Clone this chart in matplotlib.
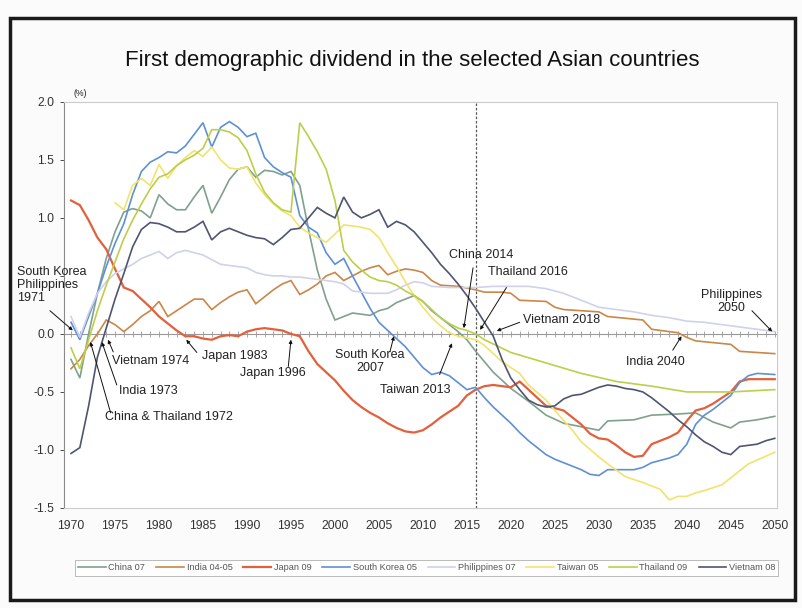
import matplotlib
matplotlib.use('Agg')
import matplotlib.pyplot as plt
from matplotlib.patches import Rectangle

plt.rcParams['font.family'] = ['Liberation Sans', 'DejaVu Sans']

# ---------------- data ----------------
series_names = ['China 07', 'India 04-05', 'Japan 09', 'South Korea 05',
                'Philippines 07', 'Taiwan 05', 'Thailand 09', 'Vietnam 08']
series_colors = ['#7fa18e', '#c98748', '#e2603c', '#5f90d4',
                 '#cfd2ea', '#f2e36c', '#bccf4a', '#4f5571']

china_years = list(range(1970, 2017)) + [2018, 2020, 2022, 2024, 2026, 2028, 2030, 2031, 2034,
                                         2036, 2039, 2041, 2043, 2045, 2046, 2048, 2050]
china_vals = [-0.22, -0.38, 0.0, 0.35, 0.65, 0.88, 1.05, 1.08, 1.06, 1.0,
              1.2, 1.12, 1.07, 1.07, 1.18, 1.28, 1.04, 1.18, 1.33, 1.42,
              1.44, 1.35, 1.41, 1.40, 1.37, 1.40, 1.28, 0.9, 0.55, 0.3,
              0.12, 0.15, 0.18, 0.17, 0.16, 0.2, 0.22, 0.27, 0.3, 0.33,
              0.28, 0.2, 0.14, 0.08, 0.02, -0.05, -0.15,
              -0.33, -0.47, -0.58, -0.70, -0.77, -0.80, -0.83, -0.75, -0.74,
              -0.70, -0.69, -0.68, -0.76, -0.81, -0.76, -0.74, -0.71]

india_years = list(range(1970, 2013)) + [2014, 2016, 2017, 2019, 2020, 2021, 2024, 2025, 2026, 2030,
                                         2031, 2035, 2036, 2039, 2040, 2041, 2045, 2046, 2050]
india_vals = [-0.3, -0.22, -0.1, 0.0, 0.12, 0.08, 0.02, 0.08, 0.15, 0.2,
              0.28, 0.15, 0.2, 0.25, 0.3, 0.3, 0.21, 0.27, 0.32, 0.36,
              0.38, 0.26, 0.32, 0.38, 0.43, 0.46, 0.34, 0.38, 0.43, 0.5,
              0.53, 0.46, 0.5, 0.54, 0.57, 0.59, 0.51, 0.54, 0.56, 0.55,
              0.53, 0.46, 0.42,
              0.41, 0.38, 0.36, 0.36, 0.35, 0.29, 0.28, 0.23, 0.21, 0.19,
              0.15, 0.12, 0.04, 0.01, -0.03, -0.06, -0.09, -0.15, -0.17]

japan_years = list(range(1970, 2048)) + [2050]
japan_vals = [1.15, 1.11, 0.98, 0.83, 0.73, 0.56, 0.40, 0.37, 0.30, 0.23,
              0.15, 0.09, 0.03, -0.02, -0.02, -0.04, -0.05, -0.02, -0.01, -0.02,
              0.02, 0.04, 0.05, 0.04, 0.03, 0.0, -0.02, -0.15, -0.26, -0.33,
              -0.40, -0.49, -0.57, -0.63, -0.68, -0.72, -0.77, -0.81, -0.84, -0.85,
              -0.83, -0.78, -0.72, -0.67, -0.62, -0.53, -0.48, -0.45, -0.44, -0.45,
              -0.46, -0.41, -0.48, -0.55, -0.62, -0.64, -0.66, -0.72, -0.78, -0.86,
              -0.90, -0.91, -0.96, -1.02, -1.06, -1.05, -0.95, -0.92, -0.89, -0.85,
              -0.75, -0.66, -0.64, -0.60, -0.55, -0.50, -0.41, -0.39,
              -0.39]

korea_years = list(range(1970, 2049)) + [2050]
korea_vals = [0.1, -0.05, 0.15, 0.35, 0.58, 0.78, 0.95, 1.2, 1.40, 1.48,
              1.52, 1.57, 1.56, 1.62, 1.72, 1.82, 1.61, 1.78, 1.83, 1.78,
              1.70, 1.73, 1.52, 1.44, 1.39, 1.35, 1.02, 0.92, 0.87, 0.70,
              0.60, 0.65, 0.50, 0.36, 0.22, 0.10, 0.03, -0.04, -0.11, -0.20,
              -0.29, -0.35, -0.33, -0.36, -0.42, -0.48, -0.46, -0.55, -0.63, -0.70,
              -0.77, -0.85, -0.92, -0.98, -1.04, -1.08, -1.11, -1.14, -1.17, -1.21,
              -1.22, -1.17, -1.17, -1.17, -1.17, -1.15, -1.11, -1.09, -1.07, -1.04,
              -0.95, -0.78, -0.70, -0.65, -0.59, -0.53, -0.42, -0.36, -0.34,
              -0.35]

phil_years = list(range(1970, 1997)) + [1998, 2000, 2001, 2002, 2004, 2006, 2007, 2008, 2009, 2010,
                                        2011, 2013, 2016, 2018, 2020, 2022, 2024, 2026, 2028, 2030,
                                        2032, 2034, 2036, 2038, 2040, 2042, 2044, 2046, 2048, 2050]
phil_vals = [0.15, -0.03, 0.18, 0.35, 0.45, 0.52, 0.56, 0.6, 0.65, 0.68,
             0.71, 0.65, 0.70, 0.72, 0.70, 0.68, 0.64, 0.60, 0.59, 0.58,
             0.57, 0.53, 0.51, 0.50, 0.50, 0.49, 0.49,
             0.47, 0.45, 0.43, 0.37, 0.35, 0.35, 0.38, 0.42, 0.45, 0.44,
             0.41, 0.40, 0.40, 0.41, 0.41, 0.41, 0.39, 0.35, 0.29, 0.23,
             0.21, 0.19, 0.16, 0.14, 0.11, 0.10, 0.08, 0.06, 0.04, 0.02]

taiwan_years = list(range(1975, 2015)) + [2016, 2017, 2019, 2021, 2022, 2024, 2025, 2027, 2028, 2030,
                                          2031, 2033, 2035, 2036, 2037, 2038, 2039, 2040, 2041, 2042,
                                          2044, 2045, 2047, 2050]
taiwan_vals = [1.13, 1.07, 1.28, 1.34, 1.28, 1.46, 1.34, 1.45, 1.52, 1.58,
               1.53, 1.61, 1.50, 1.43, 1.42, 1.44, 1.30, 1.20, 1.12, 1.06,
               1.02, 0.92, 0.87, 0.83, 0.79, 0.86, 0.94, 0.93, 0.92, 0.90,
               0.83, 0.70, 0.58, 0.45, 0.33, 0.23, 0.14, 0.07, 0.01, -0.02,
               -0.05, -0.10, -0.24, -0.34, -0.44, -0.57, -0.66, -0.83, -0.93, -1.06,
               -1.12, -1.23, -1.28, -1.31, -1.34, -1.43, -1.40, -1.40, -1.37, -1.35,
               -1.30, -1.24, -1.12, -1.02]

thai_years = list(range(1970, 2018)) + [2020, 2024, 2028, 2032, 2036, 2040, 2045, 2050]
thai_vals = [-0.12, -0.30, -0.05, 0.2, 0.42, 0.62, 0.82, 0.98, 1.12, 1.25,
             1.35, 1.38, 1.45, 1.50, 1.54, 1.60, 1.76, 1.76, 1.74, 1.69,
             1.58, 1.38, 1.22, 1.13, 1.07, 1.05, 1.82, 1.70, 1.57, 1.42,
             1.15, 0.72, 0.62, 0.55, 0.49, 0.46, 0.45, 0.42, 0.37, 0.33,
             0.28, 0.21, 0.14, 0.09, 0.05, 0.03, 0.0, -0.05,
             -0.16, -0.25, -0.34, -0.41, -0.45, -0.50, -0.50, -0.48]

vietnam_years = list(range(1970, 2051))
vietnam_vals = [-1.03, -0.98, -0.62, -0.2, 0.05, 0.30, 0.52, 0.75, 0.90, 0.96,
                0.95, 0.92, 0.88, 0.88, 0.92, 0.97, 0.81, 0.88, 0.91, 0.88,
                0.85, 0.83, 0.82, 0.77, 0.83, 0.90, 0.91, 1.0, 1.09, 1.04,
                1.0, 1.18, 1.05, 1.0, 1.03, 1.07, 0.92, 0.97, 0.94, 0.88,
                0.79, 0.70, 0.60, 0.52, 0.43, 0.33, 0.22, 0.10, -0.02, -0.22,
                -0.38, -0.48, -0.57, -0.61, -0.63, -0.62, -0.56, -0.53, -0.52, -0.49,
                -0.46, -0.44, -0.45, -0.47, -0.48, -0.50, -0.55, -0.61, -0.67, -0.74,
                -0.80, -0.87, -0.93, -0.97, -1.02, -1.04, -0.97, -0.96, -0.95, -0.92,
                -0.90]

all_years = [china_years, india_years, japan_years, korea_years,
             phil_years, taiwan_years, thai_years, vietnam_years]
all_vals = [china_vals, india_vals, japan_vals, korea_vals,
            phil_vals, taiwan_vals, thai_vals, vietnam_vals]

x_tick_years = list(range(1970, 2051, 5))
y_ticks = [-1.5, -1.0, -0.5, 0.0, 0.5, 1.0, 1.5, 2.0]
# the 0.5 label is hidden behind the annotation in the original
y_tick_labels = ['-1.5', '-1.0', '-0.5', '0.0', '', '1.0', '1.5', '2.0']
marker_year = 2016

# annotation texts: (text, text position, ha, arrow start, arrow end)
annotations = [
    ('South Korea\nPhilippines\n1971', (1963.9, 0.42), 'left', (1967.6, 0.20), (1970.2, 0.03)),
    ('Vietnam 1974', (1974.7, -0.23), 'left', (1974.8, -0.155), (1974.2, -0.05)),
    ('India 1973', (1975.4, -0.49), 'left', (1975.2, -0.44), (1973.5, -0.07)),
    ('China & Thailand 1972', (1973.9, -0.72), 'left', (1974.5, -0.68), (1972.2, -0.07)),
    ('Japan 1983', (1984.9, -0.19), 'left', (1984.3, -0.16), (1983.1, -0.05)),
    ('Japan 1996', (1989.2, -0.34), 'left', (1994.7, -0.28), (1995.0, -0.05)),
    ('South Korea\n2007', (2004.0, -0.235), 'center', (2006.25, -0.155), (2006.7, -0.02)),
    ('Taiwan 2013', (2009.1, -0.48), 'center', (2011.9, -0.35), (2013.3, -0.08)),
    ('China 2014', (2012.95, 0.68), 'left', (2015.7, 0.57), (2014.65, 0.05)),
    ('Thailand 2016', (2017.4, 0.53), 'left', (2019.5, 0.40), (2016.5, 0.035)),
    ('Vietnam 2018', (2021.4, 0.12), 'left', (2021.0, 0.10), (2018.4, 0.026)),
    ('India 2040', (2036.4, -0.24), 'center', (2038.4, -0.14), (2039.4, -0.02)),
    ('Philippines\n2050', (2045.1, 0.28), 'center', (2047.4, 0.20), (2049.7, 0.02)),
]

# ---------------- figure ----------------
fig = plt.figure(figsize=(8.02, 6.08), dpi=100, facecolor='#fbfbfb')
ax = fig.add_axes([0.0798, 0.1645, 0.889, 0.668])
ax.set_facecolor('white')

lines = []
for name, col, xs, ys in zip(series_names, series_colors, all_years, all_vals):
    lw = 1.6 if name.startswith('Japan') else 1.2
    ln, = ax.plot(xs, ys, color=col, lw=lw, label=name, solid_joinstyle='miter')
    lines.append(ln)

ax.axvline(marker_year, color='#555555', lw=0.9, ls=(0, (2, 1.5)), zorder=1)

ax.set_xlim(1969.2, 2050.25)
ax.set_ylim(-1.5, 2.0)
ax.set_yticks(y_ticks)
ax.set_yticklabels(y_tick_labels)
ax.set_xticks(x_tick_years)
ax.set_xticklabels([str(y) for y in x_tick_years])
ax.tick_params(axis='x', length=0, pad=9, labelsize=8.7, colors='#333333')
ax.tick_params(axis='y', length=3, width=0.6, pad=4, labelsize=8.7, colors='#333333',
               direction='out')
for s in ['top', 'right', 'bottom']:
    ax.spines[s].set_color('#cccccc')
    ax.spines[s].set_linewidth(0.8)
ax.spines['left'].set_color('#8a8a8a')
ax.spines['left'].set_linewidth(0.8)

# zero axis with yearly ticks
sec = ax.secondary_xaxis(1.5 / 3.5)
sec.set_xticks(list(range(1970, 2051)))
sec.tick_params(axis='x', direction='inout', length=4, width=0.6, color='#999999',
                labelbottom=False, labeltop=False)
sec.spines['bottom'].set_color('#999999')
sec.spines['bottom'].set_linewidth(0.8)
sec.spines['top'].set_visible(False)

for text, tpos, ha, astart, aend in annotations:
    ax.text(tpos[0], tpos[1], text, ha=ha, va='center', fontsize=9,
            color='#222222', linespacing=1.1, clip_on=False)
    ax.annotate('', xy=aend, xytext=astart, annotation_clip=False,
                arrowprops=dict(arrowstyle='-|>', color='#111111', lw=0.7,
                                mutation_scale=5, shrinkA=0, shrinkB=0))

fig.text(0.514, 0.901, 'First demographic dividend in the selected Asian countries',
         ha='center', va='center', fontsize=16, color='#111111')
fig.text(0.1, 0.846, '(%)', ha='center', va='center', fontsize=6.3, color='#222222')

leg = fig.legend(handles=lines, labels=series_names, loc='center',
                 bbox_to_anchor=(0.532, 0.066), ncol=8, fontsize=6.6,
                 frameon=True, fancybox=False, handlelength=3.0, handletextpad=0.3,
                 columnspacing=1.2, borderpad=0.35)
leg.get_frame().set_edgecolor('#aaaaaa')
leg.get_frame().set_linewidth(0.7)
for t in leg.get_texts():
    t.set_color('#555555')

# photo frame border
fig.patches.append(Rectangle((10 / 802, 8 / 608), 785 / 802, 582 / 608,
                             transform=fig.transFigure, fill=False,
                             edgecolor='#1a1a1a', lw=2.5))

fig.savefig('out.png', dpi=100, facecolor=fig.get_facecolor())
